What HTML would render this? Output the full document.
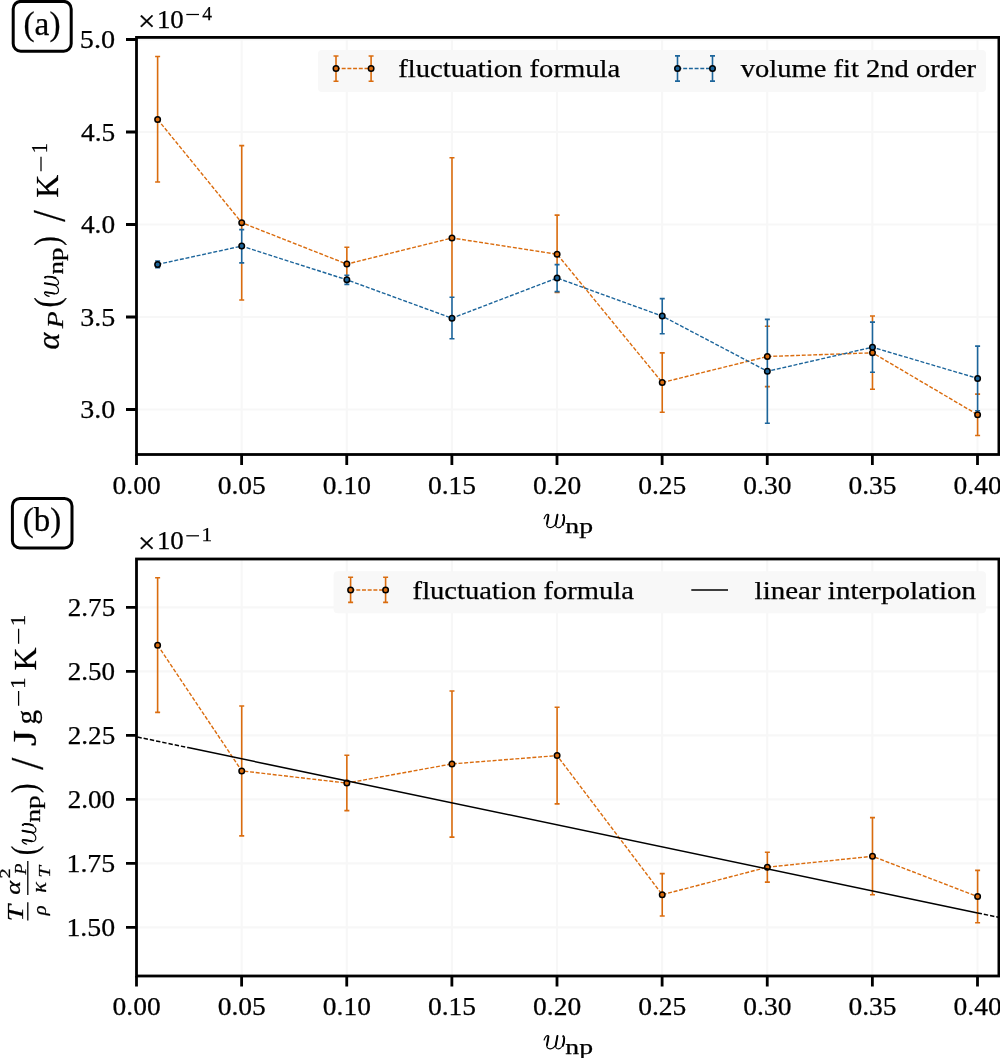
<!DOCTYPE html>
<html><head><meta charset="utf-8"><style>
html,body{margin:0;padding:0;background:#fff;width:1000px;height:1058px;overflow:hidden}
svg{display:block;will-change:transform;font-family:"Liberation Serif", serif;fill:#000}
text{stroke:#000;stroke-width:0.25px}
</style></head><body>
<svg width="1000" height="1058" viewBox="0 0 1000 1058">
<rect width="1000" height="1058" fill="#fff"/>
<path d="M241.62 37.4V454.5M346.75 37.4V454.5M451.88 37.4V454.5M557.00 37.4V454.5M662.12 37.4V454.5M767.25 37.4V454.5M872.38 37.4V454.5M977.50 37.4V454.5M136.5 39.50H998.9M136.5 132.00H998.9M136.5 224.50H998.9M136.5 317.00H998.9M136.5 409.50H998.9" stroke="#f7f7f7" stroke-width="2.1" fill="none"/>
<rect x="318" y="50" width="668" height="42" rx="4" fill="#f8f8f8"/>
<path d="M157.62 56.50V182.00M155.12 56.50h5.0M155.12 182.00h5.0" stroke="#da6c0e" stroke-width="1.6" fill="none"/>
<path d="M241.72 145.60V229.90M241.72 262.60V300.00M239.22 145.60h5.0M239.22 300.00h5.0" stroke="#da6c0e" stroke-width="1.6" fill="none"/>
<path d="M346.85 247.20V275.50M344.35 247.20h5.0M344.35 281.00h5.0" stroke="#da6c0e" stroke-width="1.6" fill="none"/>
<path d="M451.98 157.70V297.60M449.48 157.70h5.0M449.48 318.30h5.0" stroke="#da6c0e" stroke-width="1.6" fill="none"/>
<path d="M557.10 215.10V264.90M557.10 291.30V292.50M554.60 215.10h5.0M554.60 292.50h5.0" stroke="#da6c0e" stroke-width="1.6" fill="none"/>
<path d="M662.23 352.90V412.30M659.73 352.90h5.0M659.73 412.30h5.0" stroke="#da6c0e" stroke-width="1.6" fill="none"/>
<path d="M764.85 326.20h5.0M764.85 386.60h5.0" stroke="#da6c0e" stroke-width="1.6" fill="none"/>
<path d="M872.48 316.00V322.40M872.48 372.00V389.30M869.98 316.00h5.0M869.98 389.30h5.0" stroke="#da6c0e" stroke-width="1.6" fill="none"/>
<path d="M977.60 410.40V435.50M975.10 394.10h5.0M975.10 435.50h5.0" stroke="#da6c0e" stroke-width="1.6" fill="none"/>
<path d="M157.62 261.00V267.80M155.12 261.00h5.0M155.12 267.80h5.0" stroke="#1c659b" stroke-width="1.6" fill="none"/>
<path d="M241.72 229.60V262.90M239.22 229.60h5.0M239.22 262.90h5.0" stroke="#1c659b" stroke-width="1.6" fill="none"/>
<path d="M346.85 275.20V284.40M344.35 275.20h5.0M344.35 284.40h5.0" stroke="#1c659b" stroke-width="1.6" fill="none"/>
<path d="M451.98 297.30V338.80M449.48 297.30h5.0M449.48 338.80h5.0" stroke="#1c659b" stroke-width="1.6" fill="none"/>
<path d="M557.10 264.60V291.60M554.60 264.60h5.0M554.60 291.60h5.0" stroke="#1c659b" stroke-width="1.6" fill="none"/>
<path d="M662.23 298.60V333.80M659.73 298.60h5.0M659.73 333.80h5.0" stroke="#1c659b" stroke-width="1.6" fill="none"/>
<path d="M767.35 319.40V423.20M764.85 319.40h5.0M764.85 423.20h5.0" stroke="#1c659b" stroke-width="1.6" fill="none"/>
<path d="M872.48 322.10V372.30M869.98 322.10h5.0M869.98 372.30h5.0" stroke="#1c659b" stroke-width="1.6" fill="none"/>
<path d="M977.60 346.10V410.70M975.10 346.10h5.0M975.10 410.70h5.0" stroke="#1c659b" stroke-width="1.6" fill="none"/>
<polyline points="157.62,119.40 241.72,222.70 346.85,264.10 451.98,238.00 557.10,254.20 662.23,382.50 767.35,356.50 872.48,352.80 977.60,414.70" fill="none" stroke="#da6c0e" stroke-width="1.4" stroke-dasharray="3.95,1.75"/>
<circle cx="157.62" cy="119.40" r="2.75" fill="#da6c0e" stroke="#000" stroke-width="1.5"/>
<circle cx="241.72" cy="222.70" r="2.75" fill="#da6c0e" stroke="#000" stroke-width="1.5"/>
<circle cx="346.85" cy="264.10" r="2.75" fill="#da6c0e" stroke="#000" stroke-width="1.5"/>
<circle cx="451.98" cy="238.00" r="2.75" fill="#da6c0e" stroke="#000" stroke-width="1.5"/>
<circle cx="557.10" cy="254.20" r="2.75" fill="#da6c0e" stroke="#000" stroke-width="1.5"/>
<circle cx="662.23" cy="382.50" r="2.75" fill="#da6c0e" stroke="#000" stroke-width="1.5"/>
<circle cx="767.35" cy="356.50" r="2.75" fill="#da6c0e" stroke="#000" stroke-width="1.5"/>
<circle cx="872.48" cy="352.80" r="2.75" fill="#da6c0e" stroke="#000" stroke-width="1.5"/>
<circle cx="977.60" cy="414.70" r="2.75" fill="#da6c0e" stroke="#000" stroke-width="1.5"/>
<polyline points="157.62,264.40 241.72,246.10 346.85,279.80 451.98,318.20 557.10,278.00 662.23,316.10 767.35,371.30 872.48,347.20 977.60,378.40" fill="none" stroke="#1c659b" stroke-width="1.4" stroke-dasharray="3.95,1.75"/>
<circle cx="157.62" cy="264.40" r="2.75" fill="#1c659b" stroke="#000" stroke-width="1.5"/>
<circle cx="241.72" cy="246.10" r="2.75" fill="#1c659b" stroke="#000" stroke-width="1.5"/>
<circle cx="346.85" cy="279.80" r="2.75" fill="#1c659b" stroke="#000" stroke-width="1.5"/>
<circle cx="451.98" cy="318.20" r="2.75" fill="#1c659b" stroke="#000" stroke-width="1.5"/>
<circle cx="557.10" cy="278.00" r="2.75" fill="#1c659b" stroke="#000" stroke-width="1.5"/>
<circle cx="662.23" cy="316.10" r="2.75" fill="#1c659b" stroke="#000" stroke-width="1.5"/>
<circle cx="767.35" cy="371.30" r="2.75" fill="#1c659b" stroke="#000" stroke-width="1.5"/>
<circle cx="872.48" cy="347.20" r="2.75" fill="#1c659b" stroke="#000" stroke-width="1.5"/>
<circle cx="977.60" cy="378.40" r="2.75" fill="#1c659b" stroke="#000" stroke-width="1.5"/>
<path d="M336.00 56.00V81.20M333.50 56.00h5.0M333.50 81.20h5.0" stroke="#da6c0e" stroke-width="1.6" fill="none"/>
<path d="M371.10 56.00V81.20M368.60 56.00h5.0M368.60 81.20h5.0" stroke="#da6c0e" stroke-width="1.6" fill="none"/>
<polyline points="336.00,68.50 371.10,68.50" fill="none" stroke="#da6c0e" stroke-width="1.4" stroke-dasharray="3.95,1.75"/>
<circle cx="336.00" cy="68.50" r="2.75" fill="#da6c0e" stroke="#000" stroke-width="1.5"/>
<circle cx="371.10" cy="68.50" r="2.75" fill="#da6c0e" stroke="#000" stroke-width="1.5"/>
<text x="398.24" y="77.34" font-size="25.59" textLength="222.02" lengthAdjust="spacingAndGlyphs">fluctuation formula</text>
<path d="M677.50 55.90V81.10M675.00 55.90h5.0M675.00 81.10h5.0" stroke="#1c659b" stroke-width="1.6" fill="none"/>
<path d="M712.50 55.90V81.10M710.00 55.90h5.0M710.00 81.10h5.0" stroke="#1c659b" stroke-width="1.6" fill="none"/>
<polyline points="677.50,68.50 712.50,68.50" fill="none" stroke="#1c659b" stroke-width="1.4" stroke-dasharray="3.95,1.75"/>
<circle cx="677.50" cy="68.50" r="2.75" fill="#1c659b" stroke="#000" stroke-width="1.5"/>
<circle cx="712.50" cy="68.50" r="2.75" fill="#1c659b" stroke="#000" stroke-width="1.5"/>
<text x="740.80" y="77.34" font-size="25.59" textLength="235.33" lengthAdjust="spacingAndGlyphs">volume fit 2nd order</text>
<rect x="136.5" y="37.4" width="862.40" height="417.10" fill="none" stroke="#000" stroke-width="2.8"/>
<path d="M126.0 39.50H136.5M126.0 132.00H136.5M126.0 224.50H136.5M126.0 317.00H136.5M126.0 409.50H136.5M136.50 454.5v10.5M241.62 454.5v10.5M346.75 454.5v10.5M451.88 454.5v10.5M557.00 454.5v10.5M662.12 454.5v10.5M767.25 454.5v10.5M872.38 454.5v10.5M977.50 454.5v10.5" stroke="#000" stroke-width="2.8" fill="none"/>
<text x="112.57" y="493.82" font-size="25.29" textLength="48.06" lengthAdjust="spacingAndGlyphs">0.00</text>
<text x="217.69" y="493.82" font-size="25.29" textLength="48.13" lengthAdjust="spacingAndGlyphs">0.05</text>
<text x="322.82" y="493.82" font-size="25.29" textLength="48.06" lengthAdjust="spacingAndGlyphs">0.10</text>
<text x="427.94" y="493.82" font-size="25.29" textLength="48.13" lengthAdjust="spacingAndGlyphs">0.15</text>
<text x="533.07" y="493.82" font-size="25.29" textLength="48.06" lengthAdjust="spacingAndGlyphs">0.20</text>
<text x="638.19" y="493.82" font-size="25.29" textLength="48.13" lengthAdjust="spacingAndGlyphs">0.25</text>
<text x="743.32" y="493.82" font-size="25.29" textLength="48.06" lengthAdjust="spacingAndGlyphs">0.30</text>
<text x="848.44" y="493.82" font-size="25.29" textLength="48.13" lengthAdjust="spacingAndGlyphs">0.35</text>
<text x="953.57" y="493.82" font-size="25.29" textLength="48.06" lengthAdjust="spacingAndGlyphs">0.40</text>
<text x="79.88" y="48.41" font-size="25.74" textLength="35.28" lengthAdjust="spacingAndGlyphs">5.0</text>
<text x="80.95" y="140.91" font-size="26.02" textLength="34.24" lengthAdjust="spacingAndGlyphs">4.5</text>
<text x="80.95" y="233.41" font-size="25.74" textLength="34.17" lengthAdjust="spacingAndGlyphs">4.0</text>
<text x="80.17" y="325.91" font-size="25.83" textLength="35.05" lengthAdjust="spacingAndGlyphs">3.5</text>
<text x="80.17" y="418.41" font-size="25.74" textLength="34.98" lengthAdjust="spacingAndGlyphs">3.0</text>
<path d="M241.62 559.0V976.0M346.75 559.0V976.0M451.88 559.0V976.0M557.00 559.0V976.0M662.12 559.0V976.0M767.25 559.0V976.0M872.38 559.0V976.0M977.50 559.0V976.0M136.5 607.40H998.9M136.5 671.40H998.9M136.5 735.40H998.9M136.5 799.40H998.9M136.5 863.40H998.9M136.5 927.40H998.9" stroke="#f7f7f7" stroke-width="2.1" fill="none"/>
<rect x="333.6" y="571.2" width="652.4" height="42" rx="4" fill="#f8f8f8"/>
<path d="M157.62 577.70V712.40M155.12 577.70h5.0M155.12 712.40h5.0" stroke="#da6c0e" stroke-width="1.6" fill="none"/>
<path d="M241.72 706.00V835.90M239.22 706.00h5.0M239.22 835.90h5.0" stroke="#da6c0e" stroke-width="1.6" fill="none"/>
<path d="M346.85 755.30V810.60M344.35 755.30h5.0M344.35 810.60h5.0" stroke="#da6c0e" stroke-width="1.6" fill="none"/>
<path d="M451.98 691.00V837.10M449.48 691.00h5.0M449.48 837.10h5.0" stroke="#da6c0e" stroke-width="1.6" fill="none"/>
<path d="M557.10 707.20V803.90M554.60 707.20h5.0M554.60 803.90h5.0" stroke="#da6c0e" stroke-width="1.6" fill="none"/>
<path d="M662.23 873.60V916.00M659.73 873.60h5.0M659.73 916.00h5.0" stroke="#da6c0e" stroke-width="1.6" fill="none"/>
<path d="M767.35 852.30V882.10M764.85 852.30h5.0M764.85 882.10h5.0" stroke="#da6c0e" stroke-width="1.6" fill="none"/>
<path d="M872.48 817.60V894.70M869.98 817.60h5.0M869.98 894.70h5.0" stroke="#da6c0e" stroke-width="1.6" fill="none"/>
<path d="M977.60 870.40V922.70M975.10 870.40h5.0M975.10 922.70h5.0" stroke="#da6c0e" stroke-width="1.6" fill="none"/>
<polyline points="157.62,645.20 241.72,770.90 346.85,783.10 451.98,763.90 557.10,755.60 662.23,894.70 767.35,867.20 872.48,856.30 977.60,896.60" fill="none" stroke="#da6c0e" stroke-width="1.4" stroke-dasharray="3.95,1.75"/>
<circle cx="157.62" cy="645.20" r="2.75" fill="#da6c0e" stroke="#000" stroke-width="1.5"/>
<circle cx="241.72" cy="770.90" r="2.75" fill="#da6c0e" stroke="#000" stroke-width="1.5"/>
<circle cx="346.85" cy="783.10" r="2.75" fill="#da6c0e" stroke="#000" stroke-width="1.5"/>
<circle cx="451.98" cy="763.90" r="2.75" fill="#da6c0e" stroke="#000" stroke-width="1.5"/>
<circle cx="557.10" cy="755.60" r="2.75" fill="#da6c0e" stroke="#000" stroke-width="1.5"/>
<circle cx="662.23" cy="894.70" r="2.75" fill="#da6c0e" stroke="#000" stroke-width="1.5"/>
<circle cx="767.35" cy="867.20" r="2.75" fill="#da6c0e" stroke="#000" stroke-width="1.5"/>
<circle cx="872.48" cy="856.30" r="2.75" fill="#da6c0e" stroke="#000" stroke-width="1.5"/>
<circle cx="977.60" cy="896.60" r="2.75" fill="#da6c0e" stroke="#000" stroke-width="1.5"/>
<path d="M137.4 737.00L188 747.60M977.6 912.94L998.5 917.31" stroke="#000" stroke-width="1.5" stroke-dasharray="4.4,1.95" fill="none"/>
<path d="M188 747.60L977.6 912.94" stroke="#000" stroke-width="1.5" fill="none"/>
<path d="M350.60 577.20V602.40M348.10 577.20h5.0M348.10 602.40h5.0" stroke="#da6c0e" stroke-width="1.6" fill="none"/>
<path d="M385.60 577.20V602.40M383.10 577.20h5.0M383.10 602.40h5.0" stroke="#da6c0e" stroke-width="1.6" fill="none"/>
<polyline points="350.60,590.00 385.60,590.00" fill="none" stroke="#da6c0e" stroke-width="1.4" stroke-dasharray="3.95,1.75"/>
<circle cx="350.60" cy="590.00" r="2.75" fill="#da6c0e" stroke="#000" stroke-width="1.5"/>
<circle cx="385.60" cy="590.00" r="2.75" fill="#da6c0e" stroke="#000" stroke-width="1.5"/>
<text x="412.64" y="598.55" font-size="24.62" textLength="221.32" lengthAdjust="spacingAndGlyphs">fluctuation formula</text>
<path d="M691.3 589.9H728" stroke="#000" stroke-width="1.5"/>
<text x="754.62" y="598.79" font-size="24.62" textLength="221.38" lengthAdjust="spacingAndGlyphs">linear interpolation</text>
<rect x="136.5" y="559.0" width="862.40" height="417.00" fill="none" stroke="#000" stroke-width="2.8"/>
<path d="M126.0 607.40H136.5M126.0 671.40H136.5M126.0 735.40H136.5M126.0 799.40H136.5M126.0 863.40H136.5M126.0 927.40H136.5M136.50 976.0v10.5M241.62 976.0v10.5M346.75 976.0v10.5M451.88 976.0v10.5M557.00 976.0v10.5M662.12 976.0v10.5M767.25 976.0v10.5M872.38 976.0v10.5M977.50 976.0v10.5" stroke="#000" stroke-width="2.8" fill="none"/>
<text x="112.57" y="1015.12" font-size="25.29" textLength="48.06" lengthAdjust="spacingAndGlyphs">0.00</text>
<text x="217.69" y="1015.12" font-size="25.29" textLength="48.13" lengthAdjust="spacingAndGlyphs">0.05</text>
<text x="322.82" y="1015.12" font-size="25.29" textLength="48.06" lengthAdjust="spacingAndGlyphs">0.10</text>
<text x="427.94" y="1015.12" font-size="25.29" textLength="48.13" lengthAdjust="spacingAndGlyphs">0.15</text>
<text x="533.07" y="1015.12" font-size="25.29" textLength="48.06" lengthAdjust="spacingAndGlyphs">0.20</text>
<text x="638.19" y="1015.12" font-size="25.29" textLength="48.13" lengthAdjust="spacingAndGlyphs">0.25</text>
<text x="743.32" y="1015.12" font-size="25.29" textLength="48.06" lengthAdjust="spacingAndGlyphs">0.30</text>
<text x="848.44" y="1015.12" font-size="25.29" textLength="48.13" lengthAdjust="spacingAndGlyphs">0.35</text>
<text x="953.57" y="1015.12" font-size="25.29" textLength="48.06" lengthAdjust="spacingAndGlyphs">0.40</text>
<text x="67.75" y="616.31" font-size="25.83" textLength="47.44" lengthAdjust="spacingAndGlyphs">2.75</text>
<text x="67.75" y="680.31" font-size="25.74" textLength="47.37" lengthAdjust="spacingAndGlyphs">2.50</text>
<text x="67.75" y="744.31" font-size="25.83" textLength="47.44" lengthAdjust="spacingAndGlyphs">2.25</text>
<text x="67.75" y="808.31" font-size="25.74" textLength="47.37" lengthAdjust="spacingAndGlyphs">2.00</text>
<text x="66.46" y="872.31" font-size="25.93" textLength="48.75" lengthAdjust="spacingAndGlyphs">1.75</text>
<text x="66.47" y="936.31" font-size="25.74" textLength="48.68" lengthAdjust="spacingAndGlyphs">1.50</text>
<text x="138.03" y="31.46" font-size="29.69" textLength="17.41" lengthAdjust="spacingAndGlyphs">&#215;</text>
<text x="156.95" y="28.05" font-size="24.89" textLength="26.86" lengthAdjust="spacingAndGlyphs">10</text>
<path d="M186.3 14.50H199" stroke="#000" stroke-width="1.25"/>
<text x="202.31" y="19.80" font-size="18.86" textLength="9.78" lengthAdjust="spacingAndGlyphs">4</text>
<text x="138.03" y="552.76" font-size="29.69" textLength="17.41" lengthAdjust="spacingAndGlyphs">&#215;</text>
<text x="156.95" y="549.35" font-size="24.89" textLength="26.86" lengthAdjust="spacingAndGlyphs">10</text>
<path d="M186.3 535.80H199" stroke="#000" stroke-width="1.25"/>
<text x="201.44" y="540.80" font-size="18.18" textLength="10.64" lengthAdjust="spacingAndGlyphs">1</text>
<rect x="13.2" y="1.4" width="58" height="49.8" rx="7.5" fill="none" stroke="#000" stroke-width="3"/>
<text x="23.48" y="34.64" font-size="34.16" textLength="37.03" lengthAdjust="spacingAndGlyphs">(a)</text>
<rect x="12.4" y="498.4" width="59.6" height="49.6" rx="7.5" fill="none" stroke="#000" stroke-width="3"/>
<text x="22.80" y="531.35" font-size="34.60" textLength="38.44" lengthAdjust="spacingAndGlyphs">(b)</text>
<g transform="translate(543.70,513.90) scale(0.05836,0.05796) translate(-85,-148)" fill="none" stroke="#000" stroke-linecap="round"><path d="M92,232 C108,180 140,145 162,158 C178,168 152,270 140,318 C130,360 160,388 200,385 C240,383 270,355 288,318 M322,158 C312,210 296,290 292,320 C286,365 305,387 335,386 C390,384 428,310 437,230 C442,190 436,160 418,158" stroke-width="19"/><path d="M166,170 C162,210 150,270 141,318 M321,162 C312,210 300,280 293,322 M436,200 C436,250 428,300 412,335" stroke-width="33"/><circle cx="420" cy="172" r="17" fill="#000" stroke="none"/></g>
<text x="565.38" y="532.50" font-size="20.22" textLength="27.73" lengthAdjust="spacingAndGlyphs">np</text>
<g transform="translate(543.70,1035.10) scale(0.05836,0.05796) translate(-85,-148)" fill="none" stroke="#000" stroke-linecap="round"><path d="M92,232 C108,180 140,145 162,158 C178,168 152,270 140,318 C130,360 160,388 200,385 C240,383 270,355 288,318 M322,158 C312,210 296,290 292,320 C286,365 305,387 335,386 C390,384 428,310 437,230 C442,190 436,160 418,158" stroke-width="19"/><path d="M166,170 C162,210 150,270 141,318 M321,162 C312,210 300,280 293,322 M436,200 C436,250 428,300 412,335" stroke-width="33"/><circle cx="420" cy="172" r="17" fill="#000" stroke="none"/></g>
<text x="565.38" y="1053.70" font-size="20.22" textLength="27.73" lengthAdjust="spacingAndGlyphs">np</text>
<g transform="rotate(-90)">
<text x="-349.56" y="58.69" font-size="30.67" textLength="16.80" lengthAdjust="spacingAndGlyphs" font-style="italic">α</text>
<text x="-328.16" y="62.90" font-size="23.05" textLength="16.88" lengthAdjust="spacingAndGlyphs" font-style="italic">P</text>
<text x="-307.60" y="58.55" font-size="35.04" textLength="10.22" lengthAdjust="spacingAndGlyphs">(</text>
<g transform="translate(-296.80,44.00) scale(0.05753,0.06122) translate(-85,-148)" fill="none" stroke="#000" stroke-linecap="round"><path d="M92,232 C108,180 140,145 162,158 C178,168 152,270 140,318 C130,360 160,388 200,385 C240,383 270,355 288,318 M322,158 C312,210 296,290 292,320 C286,365 305,387 335,386 C390,384 428,310 437,230 C442,190 436,160 418,158" stroke-width="19"/><path d="M166,170 C162,210 150,270 141,318 M321,162 C312,210 300,280 293,322 M436,200 C436,250 428,300 412,335" stroke-width="33"/><circle cx="420" cy="172" r="17" fill="#000" stroke="none"/></g>
<text x="-274.50" y="62.54" font-size="20.51" textLength="26.88" lengthAdjust="spacingAndGlyphs">np</text>
<text x="-245.72" y="58.55" font-size="35.04" textLength="9.44" lengthAdjust="spacingAndGlyphs">)</text>
<text x="-221.80" y="65.33" font-size="47.01" textLength="11.61" lengthAdjust="spacingAndGlyphs">/</text>
<text x="-197.68" y="58.00" font-size="32.21" textLength="22.98" lengthAdjust="spacingAndGlyphs">K</text>
<text x="-153.29" y="47.10" font-size="22.88" textLength="10.21" lengthAdjust="spacingAndGlyphs">1</text>
</g>
<path d="M41 156.8V171.3" stroke="#000" stroke-width="1.25"/>
<g transform="rotate(-90)">
<text x="-921.44" y="23.30" font-size="22.75" textLength="16.58" lengthAdjust="spacingAndGlyphs" font-style="italic">T</text>
<text x="-915.29" y="45.82" font-size="19.19" textLength="9.80" lengthAdjust="spacingAndGlyphs" font-style="italic">ρ</text>
<text x="-894.69" y="19.79" font-size="20.93" textLength="13.83" lengthAdjust="spacingAndGlyphs" font-style="italic">α</text>
<text x="-878.47" y="10.20" font-size="14.64" textLength="10.19" lengthAdjust="spacingAndGlyphs">2</text>
<text x="-874.51" y="26.00" font-size="16.64" textLength="10.87" lengthAdjust="spacingAndGlyphs" font-style="italic">P</text>
<text x="-892.84" y="46.10" font-size="21.09" textLength="10.71" lengthAdjust="spacingAndGlyphs" font-style="italic">κ</text>
<text x="-877.87" y="49.90" font-size="17.10" textLength="11.73" lengthAdjust="spacingAndGlyphs" font-style="italic">T</text>
<text x="-855.20" y="36.20" font-size="34.82" textLength="9.44" lengthAdjust="spacingAndGlyphs">(</text>
<g transform="translate(-844.60,21.70) scale(0.05863,0.05959) translate(-85,-148)" fill="none" stroke="#000" stroke-linecap="round"><path d="M92,232 C108,180 140,145 162,158 C178,168 152,270 140,318 C130,360 160,388 200,385 C240,383 270,355 288,318 M322,158 C312,210 296,290 292,320 C286,365 305,387 335,386 C390,384 428,310 437,230 C442,190 436,160 418,158" stroke-width="19"/><path d="M166,170 C162,210 150,270 141,318 M321,162 C312,210 300,280 293,322 M436,200 C436,250 428,300 412,335" stroke-width="33"/><circle cx="420" cy="172" r="17" fill="#000" stroke="none"/></g>
<text x="-822.51" y="40.05" font-size="21.39" textLength="27.20" lengthAdjust="spacingAndGlyphs">np</text>
<text x="-793.12" y="36.20" font-size="34.82" textLength="9.44" lengthAdjust="spacingAndGlyphs">)</text>
<text x="-769.70" y="43.13" font-size="47.16" textLength="12.02" lengthAdjust="spacingAndGlyphs">/</text>
<text x="-746.02" y="36.06" font-size="33.83" textLength="15.90" lengthAdjust="spacingAndGlyphs">J</text>
<text x="-724.54" y="36.19" font-size="28.87" textLength="14.63" lengthAdjust="spacingAndGlyphs">g</text>
<text x="-689.04" y="25.00" font-size="21.36" textLength="11.63" lengthAdjust="spacingAndGlyphs">1</text>
<text x="-670.48" y="35.60" font-size="32.06" textLength="22.98" lengthAdjust="spacingAndGlyphs">K</text>
<text x="-626.24" y="25.00" font-size="21.36" textLength="11.63" lengthAdjust="spacingAndGlyphs">1</text>
</g>
<path d="M27.8 902.3V920.6M27.8 861.1V894.9" stroke="#000" stroke-width="1.3"/>
<path d="M18.6 690.9V705.8M18.6 628.8V643.8" stroke="#000" stroke-width="1.25"/>
</svg>
</body></html>
